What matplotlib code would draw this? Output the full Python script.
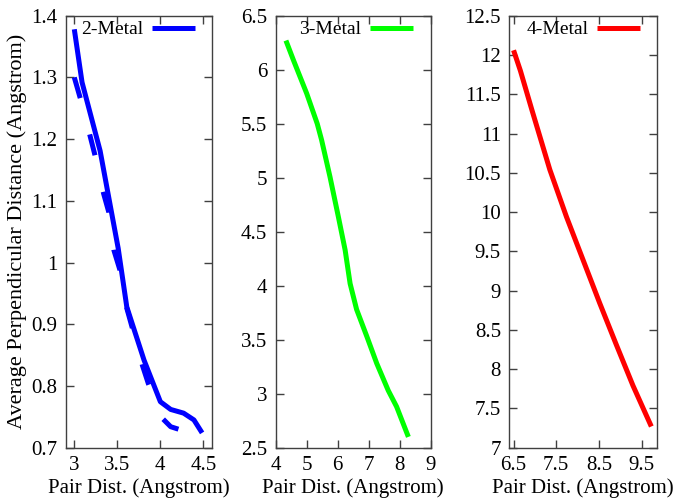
import matplotlib
matplotlib.use("Agg")
import matplotlib.pyplot as plt

plt.rcParams['lines.scale_dashes'] = False
plt.rcParams['font.family'] = ['Liberation Serif', 'DejaVu Serif']

# ---- data ----
m2_x = [3.00, 3.09, 3.30, 3.51, 3.61, 3.81, 4.00, 4.12, 4.27, 4.39, 4.485]
m2_y = [1.378, 1.292, 1.181, 1.023, 0.928, 0.842, 0.7745, 0.762, 0.756, 0.745, 0.724]

m2b_x = [3.00, 3.07, 3.18, 3.24, 3.34, 3.40, 3.46, 3.53, 3.61, 3.67, 3.79, 3.86, 4.02, 4.12, 4.21]
m2b_y = [1.300, 1.266, 1.207, 1.174, 1.112, 1.082, 1.020, 0.988, 0.926, 0.896, 0.834, 0.804, 0.748, 0.734, 0.730]

m3_x = [4.33, 4.57, 5.00, 5.34, 5.48, 5.75, 6.02, 6.24, 6.40, 6.61, 6.94, 7.26, 7.63, 7.90, 8.28]
m3_y = [6.27, 6.09, 5.78, 5.50, 5.35, 5.01, 4.64, 4.33, 4.02, 3.78, 3.53, 3.28, 3.03, 2.88, 2.60]

m4_x = [6.50, 6.66, 6.93, 7.35, 7.74, 8.13, 8.52, 8.91, 9.30, 9.73]
m4_y = [12.06, 11.80, 11.30, 10.54, 9.94, 9.39, 8.84, 8.31, 7.79, 7.27]

labels = ["2-Metal", "3-Metal", "4-Metal"]
colors = ["#0000ff", "#00ff00", "#ff0000"]

xlims = [(2.9, 4.6), (4, 9), (6.4, 9.87)]
ylims = [(0.7, 1.4), (2.5, 6.5), (7, 12.5)]
xticks = [[3, 3.5, 4, 4.5], [4, 5, 6, 7, 8, 9], [6.5, 7.5, 8.5, 9.5]]
yticks = [[0.7, 0.8, 0.9, 1.0, 1.1, 1.2, 1.3, 1.4],
          [2.5, 3, 3.5, 4, 4.5, 5, 5.5, 6, 6.5],
          [7, 7.5, 8, 8.5, 9, 9.5, 10, 10.5, 11, 11.5, 12, 12.5]]

W, H = 676, 498
fig = plt.figure(figsize=(W / 100, H / 100), dpi=100)

lefts = [65.7, 275.7, 509.3]
rights = [212.0, 430.7, 657.3]
top, bottom = 15.7, 447.7

lw = 3.6
axes = []
for i in range(3):
    ax = fig.add_axes([lefts[i] / W, (H - bottom) / H,
                       (rights[i] - lefts[i]) / W, (bottom - top) / H])
    axes.append(ax)

series = [(m2_x, m2_y), (m3_x, m3_y), (m4_x, m4_y)]
for i, ax in enumerate(axes):
    if i == 0:
        ax.plot(m2b_x, m2b_y, color=colors[0], lw=lw, dashes=(15.5, 27.0),
                dash_capstyle='butt')
    x, y = series[i]
    ax.plot(x, y, color=colors[i], lw=lw, solid_capstyle='butt',
            solid_joinstyle='round', label=labels[i])
    ax.set_xlim(*xlims[i])
    ax.set_ylim(*ylims[i])
    ax.set_xticks(xticks[i])
    ax.set_yticks(yticks[i])
    ax.set_xticklabels([('%g' % v) for v in xticks[i]])
    ax.set_yticklabels([('%g' % v) for v in yticks[i]])
    ax.tick_params(direction='in', top=True, right=True, length=6, width=1,
                   color='#404040', labelsize=15, pad=6)
    for s in ax.spines.values():
        s.set_color('#404040')
        s.set_linewidth(1)
    ax.set_xlabel("Pair Dist. (Angstrom)", fontsize=15, labelpad=2)
    ax.legend(loc='upper right', bbox_to_anchor=(0.884, 0.988), frameon=False,
              markerfirst=False, borderpad=0, borderaxespad=0,
              handlelength=2.2, handletextpad=0.46,
              prop={'family': 'Liberation Serif', 'size': 14})

axes[0].set_ylabel("Average Perpendicular Distance (Angstrom)", fontsize=16,
                   labelpad=3)

fig.savefig("out.png", dpi=100)
